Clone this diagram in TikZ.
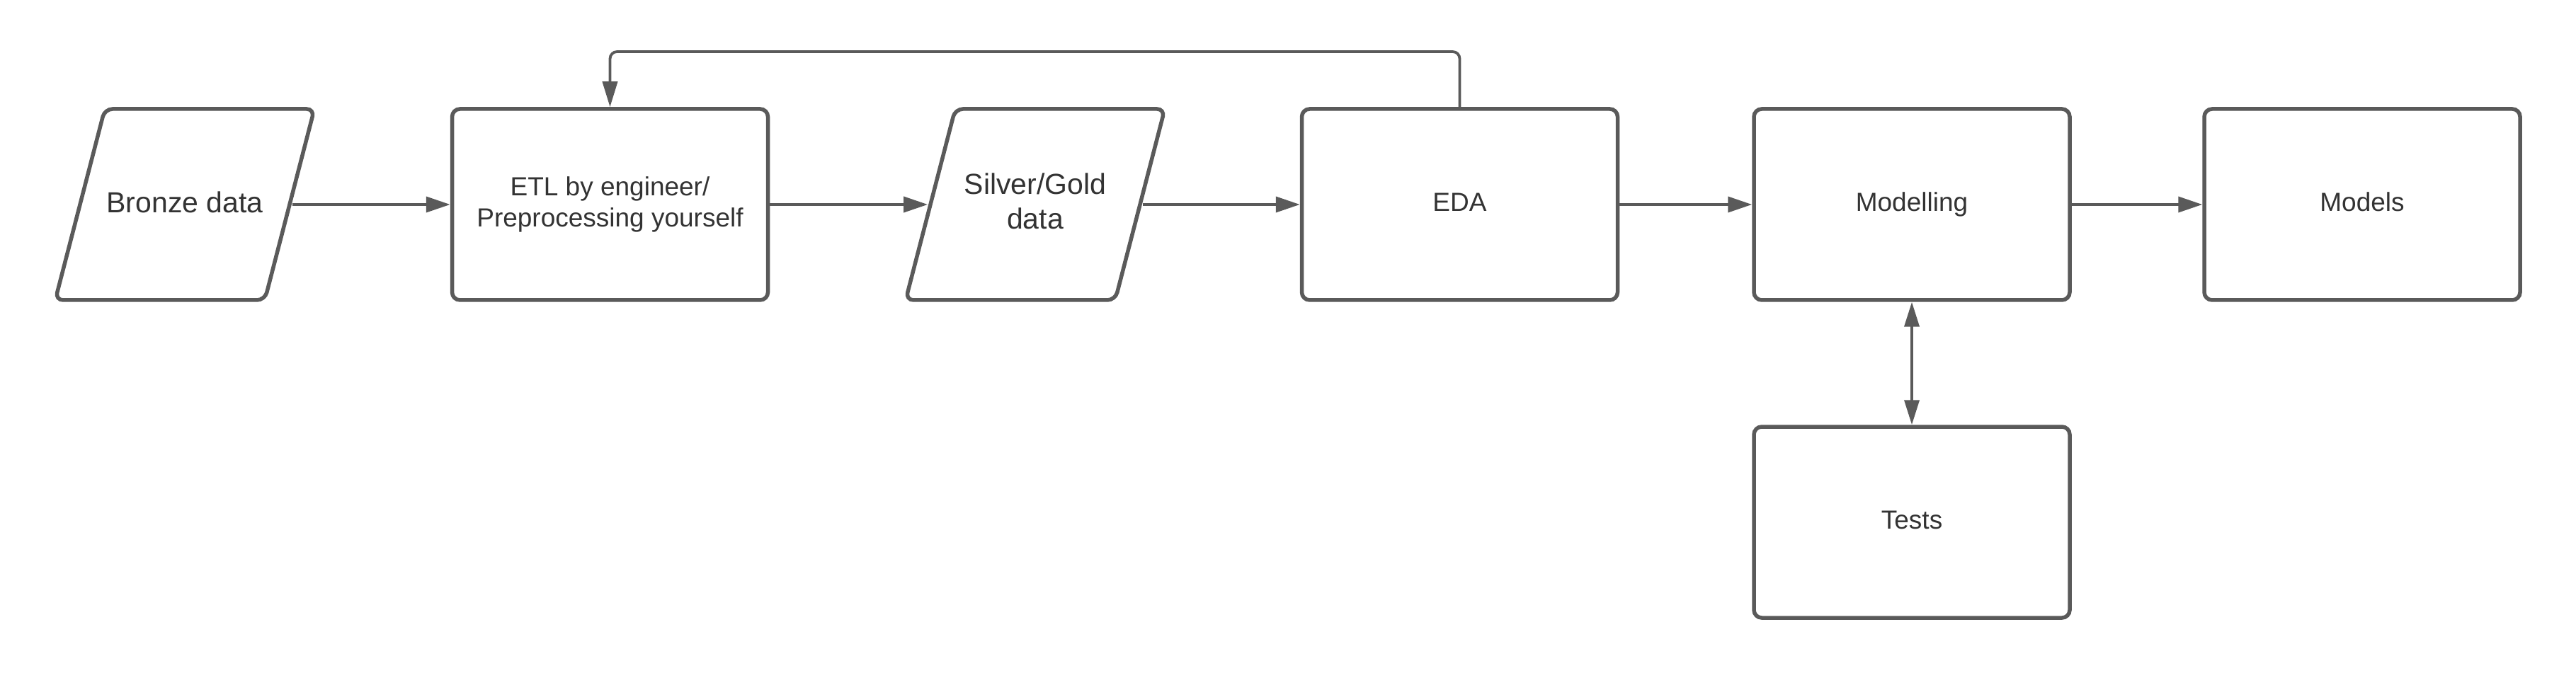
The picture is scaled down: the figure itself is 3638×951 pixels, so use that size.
\documentclass[tikz,border=0pt]{standalone}
\usepackage{fontspec}
\setmainfont{Liberation Sans}
\usetikzlibrary{arrows.meta,calc}
\definecolor{linegray}{HTML}{5A5A5A}
\definecolor{textgray}{HTML}{333333}
\begin{document}
\begin{tikzpicture}[x=0.25pt,y=-0.25pt,
  box/.style={draw=linegray, line width=1.375pt, rounded corners=2.75pt,
    minimum width=111.5pt, minimum height=67.5pt, inner sep=0pt,
    text=textgray, font=\fontsize{9.25}{11.15}\selectfont, align=center},
  oneline/.style={text height=6.75pt, text depth=1.95pt},
  paratext/.style={minimum width=74.5pt, minimum height=67.5pt, inner sep=0pt,
    outer sep=0.7pt, text=textgray, font=\fontsize{10.25}{12.25}\selectfont, align=center},
  paraline/.style={draw=linegray, line width=1.375pt, rounded corners=2.75pt},
  conn/.style={draw=linegray, line width=0.95pt, -{Triangle[length=8.5pt,width=5.5pt]}},
  fb/.style={draw=linegray, line width=0.95pt, rounded corners=2.5pt, -{Triangle[length=9pt,width=5.25pt]}},
  dbl/.style={draw=linegray, line width=0.95pt, {Triangle[length=8.75pt,width=5.25pt]}-{Triangle[length=8.75pt,width=5.25pt]}}]
  \useasboundingbox (0,0) rectangle (3638,951);

  % nodes
  \node[paratext, text height=7.5pt, text depth=1.5pt] (bronze) at (261,289) {Bronze data};
  \draw[paraline] ($(bronze.center)+(-113,-135)$) -- ($(bronze.center)+(183,-135)$)
     -- ($(bronze.center)+(113,135)$) -- ($(bronze.center)+(-183,135)$) -- cycle;

  \node[box] (etl) at (861.5,289) {ETL by engineer/\\Preprocessing yourself};

  \node[paratext] (silver) at (1462,289) {Silver/Gold\\data\rule[-2.5pt]{0pt}{2.5pt}};
  \draw[paraline] ($(silver.center)+(-113,-135)$) -- ($(silver.center)+(183,-135)$)
     -- ($(silver.center)+(113,135)$) -- ($(silver.center)+(-183,135)$) -- cycle;

  \node[box, oneline] (eda) at (2061.5,289) {EDA};
  \node[box, oneline] (modelling) at (2700,289) {Modelling};
  \node[box, oneline] (models) at (3336,289) {Models};
  \node[box, oneline] (tests) at (2700,738) {Tests};

  \coordinate (fbtop) at (0,73);

  % connectors
  \draw[conn] (bronze.east) -- (etl.west);
  \draw[conn] (etl.east) -- (silver.west);
  \draw[conn] (silver.east) -- (eda.west);
  \draw[conn] (eda.east) -- (modelling.west);
  \draw[conn] (modelling.east) -- (models.west);
  \draw[fb] (eda.north) -- (eda.north |- fbtop) -| (etl.north);
  \draw[dbl] (modelling.south) -- (tests.north);
\end{tikzpicture}
\end{document}
